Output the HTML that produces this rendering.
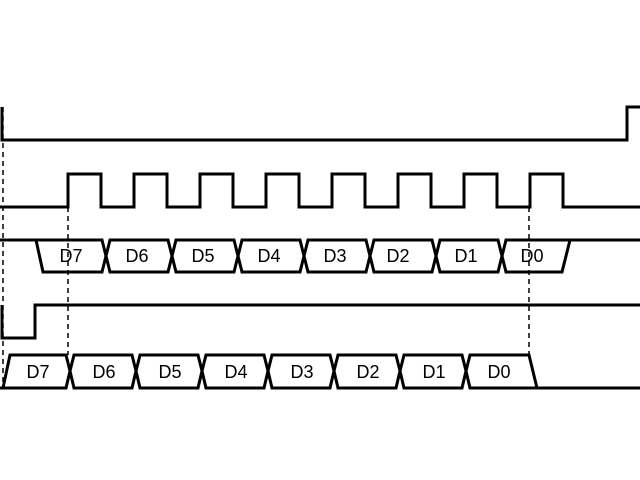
<!DOCTYPE html>
<html><head><style>body{margin:0;background:#fff}svg{display:block}</style></head><body>
<svg width="640" height="480" xmlns="http://www.w3.org/2000/svg" font-family="Liberation Sans, sans-serif" font-size="18">
<g fill="none" stroke="#000" stroke-width="3" stroke-linejoin="miter">
<polyline points="2,107 2,140 627,140 627,107 640,107"/>
<polyline points="0,207 68,207 68,174 101,174 101,207 134,207 134,174 167,174 167,207 200,207 200,174 233,174 233,207 266,207 266,174 299,174 299,207 332,207 332,174 365,174 365,207 398,207 398,174 431,174 431,207 464,207 464,174 497,174 497,207 530,207 530,174 563,174 563,207 640,207"/>
<polyline points="0,240 36,240 43,272 102,272 106,256 110,272 168,272 172,256 176,272 234,272 238,256 242,272 300,272 304,256 308,272 366,272 370,256 374,272 432,272 436,256 440,272 498,272 502,256 506,272 562,272 570,240 640,240"/>
<polyline points="36,240 102,240 106,256 110,240 168,240 172,256 176,240 234,240 238,256 242,240 300,240 304,256 308,240 366,240 370,256 374,240 432,240 436,256 440,240 498,240 502,256 506,240 570,240"/>
<polyline points="2,305 2,338 35,338 35,305 640,305"/>
<polyline points="0,388 3,388 10,355 66,355 70,371 74,355 132,355 136,371 140,355 198,355 202,371 206,355 264,355 268,371 272,355 330,355 334,371 338,355 396,355 400,371 404,355 462,355 466,371 470,355 529,355 537,388 640,388"/>
<polyline points="3,388 66,388 70,371 74,388 132,388 136,371 140,388 198,388 202,371 206,388 264,388 268,371 272,388 330,388 334,371 338,388 396,388 400,371 404,388 462,388 466,371 470,388 537,388"/>
</g>
<g stroke="#000" stroke-width="1.5" stroke-dasharray="5,4">
<line x1="3" y1="107" x2="3" y2="388"/>
<line x1="68" y1="207" x2="68" y2="355"/>
<line x1="529" y1="207" x2="529" y2="355"/>
</g>
<g text-anchor="middle">
<text x="71" y="262">D7</text><text x="137" y="262">D6</text><text x="203" y="262">D5</text><text x="269" y="262">D4</text><text x="335" y="262">D3</text><text x="398" y="262">D2</text><text x="466" y="262">D1</text><text x="532" y="262">D0</text>
<text x="38" y="378">D7</text><text x="104" y="378">D6</text><text x="170" y="378">D5</text><text x="236" y="378">D4</text><text x="302" y="378">D3</text><text x="368" y="378">D2</text><text x="434" y="378">D1</text><text x="499" y="378">D0</text>
</g>
</svg>
</body></html>
